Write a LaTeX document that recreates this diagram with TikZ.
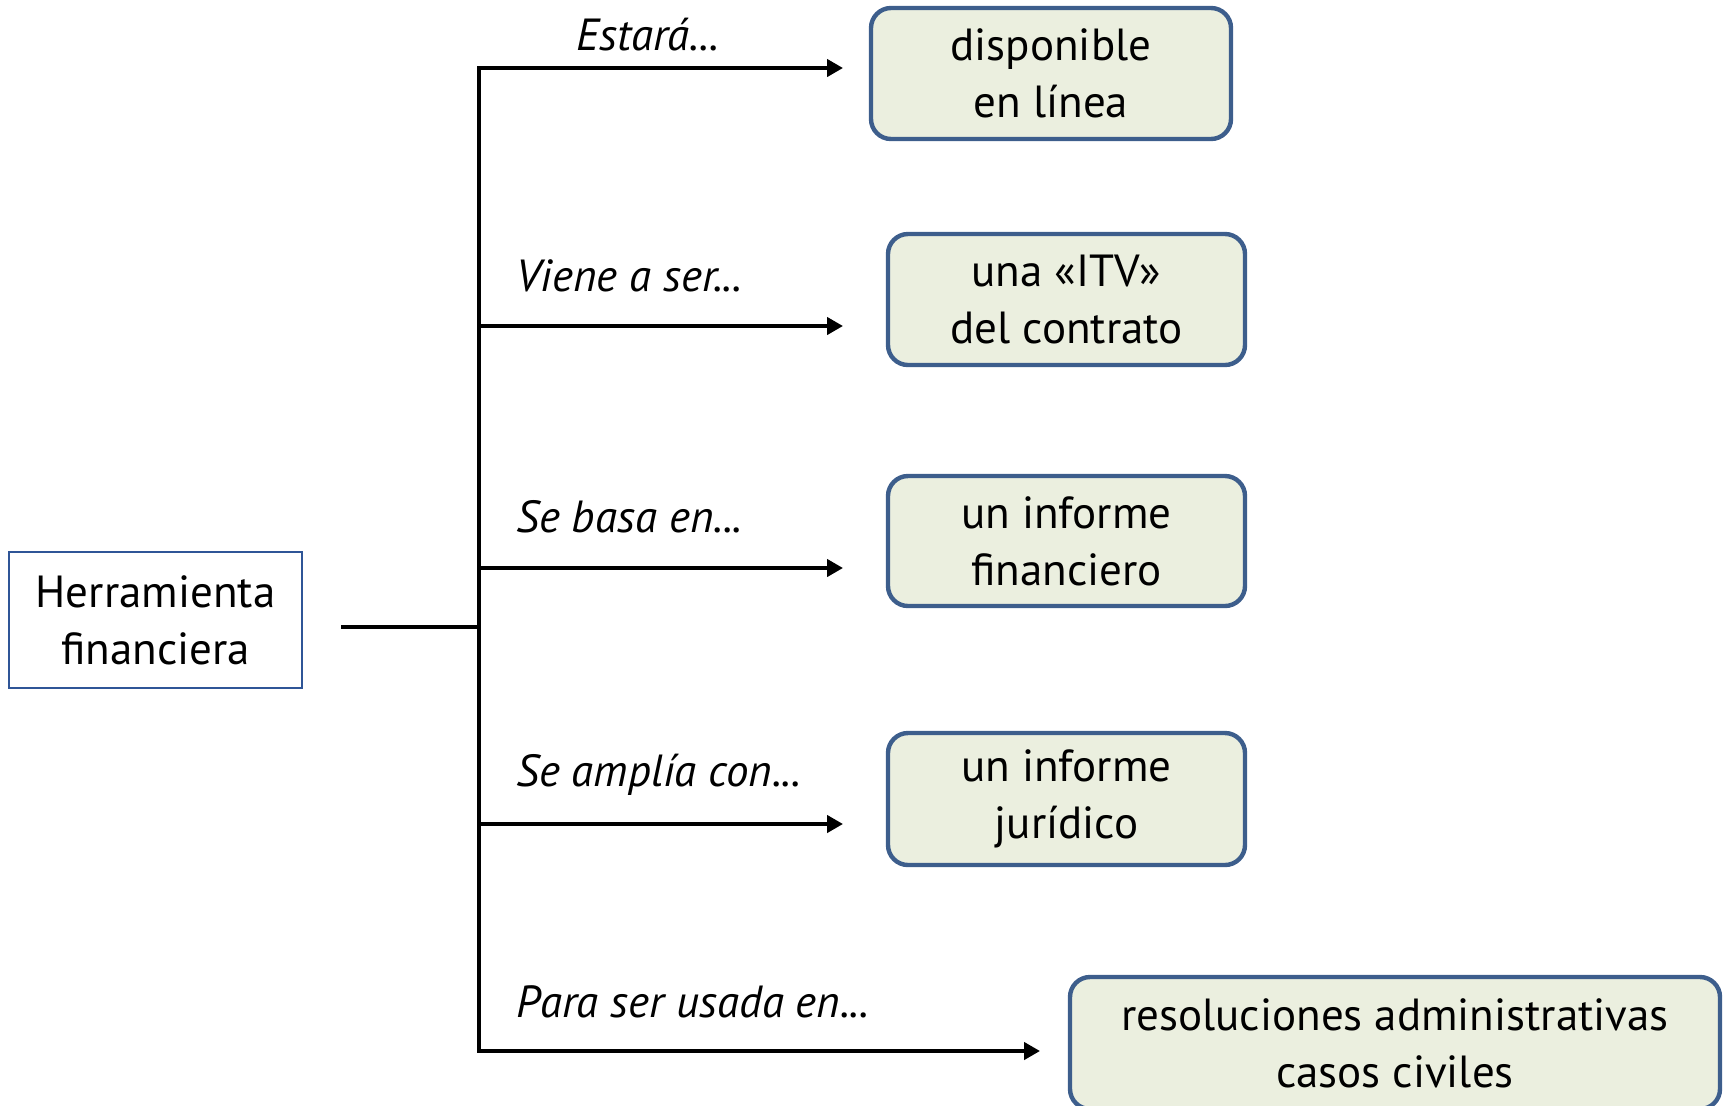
\documentclass[tikz,border=0pt]{standalone}
\usepackage{fontspec}
\setmainfont{PT Sans}
\usetikzlibrary{arrows.meta}
\definecolor{boxfill}{HTML}{EBEFDF}
\definecolor{boxdraw}{HTML}{3D5E8C}
\definecolor{mainblue}{HTML}{2F5597}
\begin{document}
\begin{tikzpicture}[x=0.5pt,y=-0.5pt,
  mainbox/.style={draw=mainblue,line width=0.8pt,fill=white,minimum width=146.5pt,minimum height=68pt,inner sep=0pt,align=center,font=\fontsize{22.5}{28.5}\selectfont},
  resbox/.style={draw=boxdraw,line width=2.2pt,fill=boxfill,rounded corners=10pt,inner sep=0pt,align=center,font=\fontsize{22.5}{28.5}\selectfont},
  lbl/.style={anchor=west,inner sep=0pt,font=\fontsize{22.5}{28.5}\selectfont\itshape},
  trunk/.style={line width=2.4pt,line cap=rect},
  arr/.style={line width=2.4pt,-{Triangle[length=8pt,width=8.5pt]}}]
\useasboundingbox (0,0) rectangle (1729,1105);
\node[mainbox] (main) at (155.5,620) {Herramienta\\financiera};
\node[resbox,minimum width=180pt,minimum height=65.5pt] (b1) at (1051,73.5) {disponible\\en línea};
\node[resbox,minimum width=178.5pt,minimum height=65.5pt] (b2) at (1066.5,299.5) {una «ITV»\\del contrato};
\node[resbox,minimum width=178.5pt,minimum height=65pt] (b3) at (1066.5,541) {un informe\\financiero};
\node[resbox,minimum width=178.5pt,minimum height=66pt] (b4) at (1066.5,799) {un informe\\jurídico};
\node[resbox,minimum width=325pt,minimum height=66pt] (b5) at (1395,1043) {resoluciones administrativas\\casos civiles};
\node[lbl] (l1) at (576,35) {Estará...};
\node[lbl] (l2) at (516,276) {Viene a ser...};
\node[lbl] (l3) at (516,517) {Se basa en...};
\node[lbl] (l4) at (516,775) {Se amplía con...};
\node[lbl] (l5) at (516,1002) {Para ser usada en...};
\coordinate (s0) at (343,627);
\coordinate (j0) at (479,627);
\coordinate (t1) at (479,68);
\coordinate (t2) at (479,326);
\coordinate (t3) at (479,568);
\coordinate (t4) at (479,824);
\coordinate (t5) at (479,1051);
\coordinate (e1) at (843,68);
\coordinate (e2) at (843,326);
\coordinate (e3) at (843,568);
\coordinate (e4) at (843,824);
\coordinate (e5) at (1040,1051);
\begin{scope}[draw=black!18,shift={(3,4)}]
\draw[trunk,draw=black!18] (s0) -- (j0);
\draw[trunk,draw=black!18] (t1) -- (t5);
\foreach \i in {1,...,5} {\draw[arr,draw=black!18,fill=black!18] (t\i) -- (e\i);}
\end{scope}
\draw[trunk] (s0) -- (j0);
\draw[trunk] (t1) -- (t5);
\draw[arr] (t1) -- (e1);
\draw[arr] (t2) -- (e2);
\draw[arr] (t3) -- (e3);
\draw[arr] (t4) -- (e4);
\draw[arr] (t5) -- (e5);
\end{tikzpicture}
\end{document}
